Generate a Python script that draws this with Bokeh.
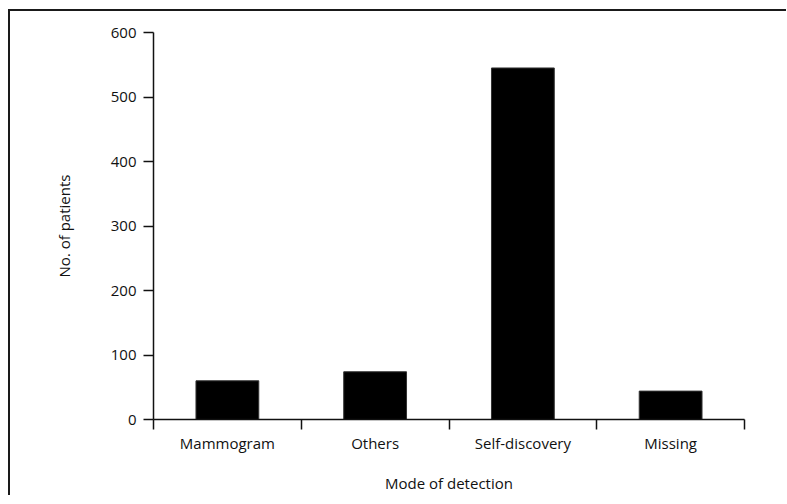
from bokeh.plotting import figure
from bokeh.models import Range1d, LinearAxis, FixedTicker, ColumnDataSource, CustomLabelingPolicy
from bokeh.embed import file_html
from bokeh.resources import INLINE

categories = ["Mammogram", "Others", "Self-discovery", "Missing"]
patients = [60, 74, 545, 44]
y_ticks = [0, 100, 200, 300, 400, 500, 600]

FONT = "Open Sans"
INK = "#111111"

n = len(categories)
centers = [i + 0.5 for i in range(n)]
source = ColumnDataSource(dict(x=centers, top=patients, cat=categories))

p = figure(
    x_range=Range1d(0, n),
    y_range=Range1d(0, 600),
    frame_width=591, frame_height=387,
    min_border_left=143, min_border_top=21, min_border_right=42, min_border_bottom=60,
    x_axis_location=None, y_axis_location=None,
    output_backend="svg", toolbar_location=None,
)
p.grid.visible = False
p.outline_line_color = None
p.background_fill_color = "white"
p.border_fill_color = "white"
p.styles = {"border-top": "2px solid #1a1a1a", "border-left": "2px solid #1a1a1a",
            "margin-left": "8px", "margin-top": "9px"}

p.vbar(x="x", top="top", source=source, width=0.425, fill_color="black", line_color="#333333", line_width=1)

# y axis
yax = LinearAxis(ticker=FixedTicker(ticks=y_ticks))
yax.axis_label = "No. of patients"
yax.axis_label_text_font = FONT
yax.axis_label_text_font_style = "normal"
yax.axis_label_text_font_size = "15px"
yax.axis_label_text_color = INK
yax.axis_label_standoff = 34
yax.major_label_text_font = FONT
yax.major_label_text_font_size = "15px"
yax.major_label_text_color = INK
yax.major_label_standoff = 7
yax.major_tick_out = 10
yax.major_tick_in = 0
yax.minor_tick_line_color = None
yax.axis_line_color = INK
yax.axis_line_width = 1.5
yax.major_tick_line_color = INK
yax.major_tick_line_width = 1.5
p.add_layout(yax, "left")

# x axis: tick marks at category boundaries (no labels)
eax = LinearAxis(ticker=FixedTicker(ticks=list(range(n + 1))))
eax.major_label_policy = CustomLabelingPolicy(code="return new Set()")
eax.major_label_text_font_size = "1px"
eax.major_label_standoff = 0
eax.major_tick_out = 10
eax.major_tick_in = 0
eax.minor_tick_line_color = None
eax.axis_line_color = INK
eax.axis_line_width = 1.5
eax.major_tick_line_color = INK
eax.major_tick_line_width = 1.5
p.add_layout(eax, "below")

# x axis: category labels at category centres
cax = LinearAxis(ticker=FixedTicker(ticks=centers))
cax.major_label_overrides = {c: name for c, name in zip(centers, categories)}
cax.axis_line_color = None
cax.major_tick_line_color = None
cax.minor_tick_line_color = None
cax.major_tick_out = 0
cax.major_tick_in = 0
cax.major_label_standoff = -1
cax.major_label_text_font = FONT
cax.major_label_text_font_size = "15px"
cax.major_label_text_color = INK
cax.axis_label = "Mode of detection"
cax.axis_label_text_font = FONT
cax.axis_label_text_font_style = "normal"
cax.axis_label_text_font_size = "15px"
cax.axis_label_text_color = INK
cax.axis_label_standoff = 17
p.add_layout(cax, "below")

open("out.html", "w").write(file_html(p, INLINE))
